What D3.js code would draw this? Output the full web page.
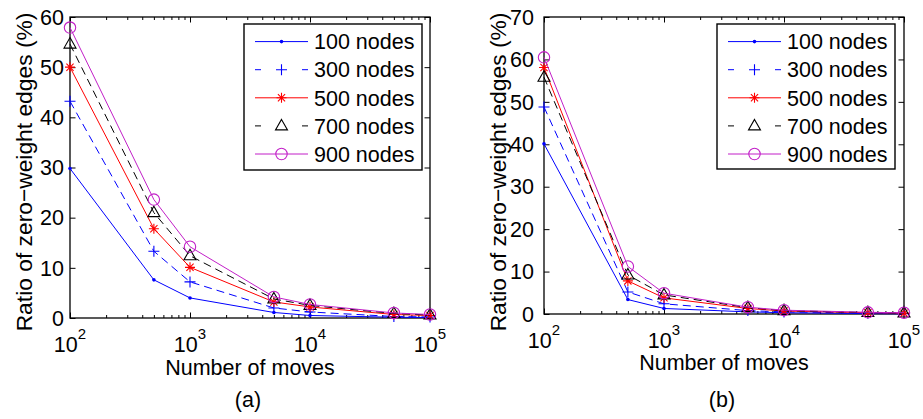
<!DOCTYPE html>
<html>
<head>
<meta charset="utf-8">
<script src="https://cdn.jsdelivr.net/npm/d3@7"></script>
<style>
  html, body { margin: 0; padding: 0; background: #fff; }
  svg { display: block; font-family: "Liberation Sans", Arial, Helvetica, sans-serif; }
</style>
</head>
<body>
<svg id="chart" width="923" height="419"></svg>
<script>
// Number of moves (x values, log scale)
const moves = [100, 500, 1000, 5000, 10000, 50000, 100000];

// Series labels
const seriesNames = ["100 nodes", "300 nodes", "500 nodes", "700 nodes", "900 nodes"];

// Panel (a): ratio of zero-weight edges (%)
const a100 = [29.8, 7.6, 4.0, 1.1, 0.5, 0.15, 0.1];
const a300 = [43.2, 13.3, 7.2, 2.0, 1.2, 0.3, 0.2];
const a500 = [50.0, 17.8, 10.1, 3.2, 2.2, 0.7, 0.5];
const a700 = [54.6, 21.0, 12.4, 3.8, 2.5, 0.9, 0.6];
const a900 = [57.9, 23.6, 14.2, 4.2, 2.7, 1.0, 0.7];

// Panel (b): ratio of zero-weight edges (%)
const b100 = [40.1, 3.4, 1.3, 0.5, 0.3, 0.1, 0.05];
const b300 = [48.8, 5.2, 2.4, 0.8, 0.5, 0.2, 0.1];
const b500 = [58.1, 7.8, 3.8, 1.3, 0.7, 0.3, 0.2];
const b700 = [55.8, 9.2, 4.5, 1.5, 0.8, 0.35, 0.25];
const b900 = [60.5, 11.2, 4.9, 1.6, 0.9, 0.4, 0.3];

// Axis tick values
const xMajorTicks = [100, 1000, 10000, 100000];
const xTickExponents = ["2", "3", "4", "5"];
const yTicksA = [0, 10, 20, 30, 40, 50, 60];
const yTicksB = [0, 10, 20, 30, 40, 50, 60, 70];
const panelLabels = ["(a)", "(b)"];
const xTitle = "Number of moves";
const yTitle = "Ratio of zero\u2212weight edges (%)";

// Line styles per series
const styles = [
  { color: "#0000ff", dash: null,  marker: "dot" },
  { color: "#0000ff", dash: "8,5", marker: "plus" },
  { color: "#ff0000", dash: null,  marker: "star" },
  { color: "#000000", dash: "8,5", marker: "triangle" },
  { color: "#c21fc8", dash: null,  marker: "circle" }
];

const panels = [
  { left: 70,  right: 430, top: 17, bottom: 318, yMax: 60, yTicks: yTicksA,
    series: [a100, a300, a500, a700, a900], label: panelLabels[0],
    yLabelGap: 6, yTitleX: 32, xTitleY: 375,
    legend: { x: 244, y: 24, w: 178, h: 146 } },
  { left: 544, right: 904, top: 17, bottom: 314, yMax: 70, yTicks: yTicksB,
    series: [b100, b300, b500, b700, b900], label: panelLabels[1],
    yLabelGap: 10, yTitleX: 506, xTitleY: 370,
    legend: { x: 717, y: 24, w: 178, h: 145 } }
];

const FONT = 21.5;
const svg = d3.select("#chart");

function drawMarker(g, type, cx, cy, color) {
  if (type === "dot") {
    g.append("circle").attr("cx", cx).attr("cy", cy).attr("r", 1.8).attr("fill", color);
  } else if (type === "plus") {
    g.append("path").attr("d", `M${cx-5.5},${cy}H${cx+5.5}M${cx},${cy-5.5}V${cy+5.5}`)
      .attr("stroke", color).attr("stroke-width", 1.1).attr("fill", "none");
  } else if (type === "star") {
    const s = 5, d = 3.6;
    g.append("path").attr("d",
      `M${cx-s},${cy}H${cx+s}M${cx},${cy-s}V${cy+s}` +
      `M${cx-d},${cy-d}L${cx+d},${cy+d}M${cx-d},${cy+d}L${cx+d},${cy-d}`)
      .attr("stroke", color).attr("stroke-width", 1.1).attr("fill", "none");
  } else if (type === "triangle") {
    g.append("path").attr("d", `M${cx},${cy-6.5}L${cx+6},${cy+4}L${cx-6},${cy+4}Z`)
      .attr("stroke", color).attr("stroke-width", 1.1).attr("fill", "none");
  } else if (type === "circle") {
    g.append("circle").attr("cx", cx).attr("cy", cy).attr("r", 5.7)
      .attr("stroke", color).attr("stroke-width", 1.1).attr("fill", "none");
  }
}

panels.forEach(p => {
  const x = d3.scaleLog().domain([100, 100000]).range([p.left, p.right]);
  const y = d3.scaleLinear().domain([0, p.yMax]).range([p.bottom, p.top]);
  const g = svg.append("g");

  // minor x ticks (2..9 within each decade)
  const minor = [];
  for (let e = 2; e < 5; e++) for (let m = 2; m <= 9; m++) minor.push(m * Math.pow(10, e));

  const axes = g.append("g").attr("class", "axes");
  axes.append("g").attr("transform", `translate(0,${p.bottom})`)
    .call(d3.axisBottom(x).tickValues(minor).tickSize(-3).tickFormat(""));
  axes.append("g").attr("transform", `translate(0,${p.bottom})`)
    .call(d3.axisBottom(x).tickValues(xMajorTicks).tickSize(-5.5).tickFormat(""));
  axes.append("g").attr("transform", `translate(0,${p.top})`)
    .call(d3.axisTop(x).tickValues(minor).tickSize(-3).tickFormat(""));
  axes.append("g").attr("transform", `translate(0,${p.top})`)
    .call(d3.axisTop(x).tickValues(xMajorTicks).tickSize(-5.5).tickFormat(""));
  axes.append("g").attr("transform", `translate(${p.left},0)`)
    .call(d3.axisLeft(y).tickValues(p.yTicks).tickSize(-5.5).tickFormat(""));
  axes.append("g").attr("transform", `translate(${p.right},0)`)
    .call(d3.axisRight(y).tickValues(p.yTicks).tickSize(-5.5).tickFormat(""));
  axes.selectAll(".domain").remove();
  axes.selectAll(".tick line").attr("stroke", "#000").attr("stroke-width", 1);

  // y tick labels
  g.append("g").selectAll("text").data(p.yTicks).join("text")
    .attr("x", p.left - p.yLabelGap)
    .attr("y", d => y(d) + FONT * 0.36)
    .attr("text-anchor", "end")
    .attr("font-size", FONT)
    .attr("fill", "#000")
    .text(d => d);

  // x tick labels: 10 with superscript exponent
  const xl = g.append("g").selectAll("text").data(xMajorTicks).join("text")
    .attr("x", d => x(d))
    .attr("y", p.bottom + 34)
    .attr("text-anchor", "middle")
    .attr("font-size", FONT)
    .attr("fill", "#000");
  xl.append("tspan").text("10");
  xl.append("tspan").attr("dy", -13).attr("font-size", 15)
    .text((d, i) => xTickExponents[i]);

  // box
  g.append("rect")
    .attr("x", p.left).attr("y", p.top)
    .attr("width", p.right - p.left).attr("height", p.bottom - p.top)
    .attr("fill", "none").attr("stroke", "#000").attr("stroke-width", 1.3);

  // data lines and markers
  const line = d3.line().x(d => x(d[0])).y(d => y(d[1]));
  p.series.forEach((vals, si) => {
    const st = styles[si];
    const pts = moves.map((m, i) => [m, vals[i]]);
    g.append("path").datum(pts)
      .attr("d", line)
      .attr("fill", "none")
      .attr("stroke", st.color)
      .attr("stroke-width", 1)
      .attr("stroke-dasharray", st.dash);
    const mg = g.append("g");
    pts.forEach(d => drawMarker(mg, st.marker, x(d[0]), y(d[1]), st.color));
  });

  // axis titles
  g.append("text")
    .attr("x", (p.left + p.right) / 2)
    .attr("y", p.xTitleY)
    .attr("text-anchor", "middle")
    .attr("font-size", FONT)
    .text(xTitle);
  g.append("text")
    .attr("transform", `translate(${p.yTitleX},172) rotate(-90)`)
    .attr("text-anchor", "middle")
    .attr("font-size", 22.8)
    .text(yTitle);
  g.append("text")
    .attr("x", (p.left + p.right) / 2 - 2)
    .attr("y", 407)
    .attr("text-anchor", "middle")
    .attr("font-size", FONT)
    .text(p.label);

  // legend
  const L = p.legend;
  const lg = g.append("g");
  lg.append("rect")
    .attr("x", L.x).attr("y", L.y).attr("width", L.w).attr("height", L.h)
    .attr("fill", "#fff").attr("stroke", "#000").attr("stroke-width", 1.4);
  seriesNames.forEach((name, si) => {
    const st = styles[si];
    const cy = L.y + 17.6 + si * 28.1;
    const x0 = L.x + 11, x1 = L.x + 64, xm = (x0 + x1) / 2;
    lg.append("line")
      .attr("x1", x0).attr("x2", x1).attr("y1", cy).attr("y2", cy)
      .attr("stroke", st.color).attr("stroke-width", 1)
      .attr("stroke-dasharray", st.dash ? "6,41,6" : null);
    drawMarker(lg, st.marker, xm, cy, st.color);
    lg.append("text")
      .attr("x", L.x + 70).attr("y", cy + FONT * 0.36)
      .attr("font-size", FONT)
      .text(name);
  });
});
</script>
</body>
</html>
